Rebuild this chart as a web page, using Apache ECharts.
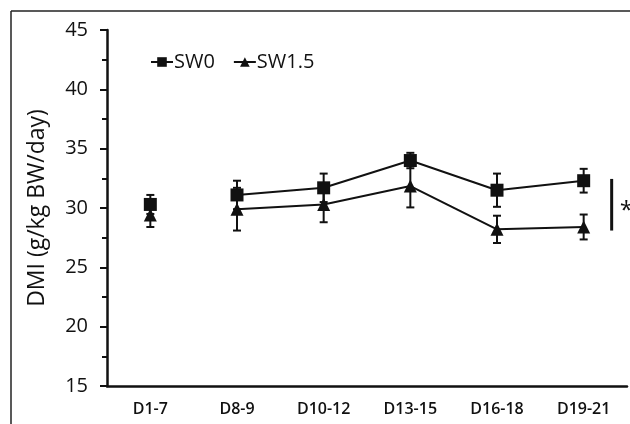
<!DOCTYPE html>
<html><head><meta charset="utf-8">
<script src="https://cdn.jsdelivr.net/npm/echarts@6/dist/echarts.min.js"></script>
<style>html,body{margin:0;padding:0;background:#fff}#c{width:630px;height:424px}</style>
</head><body><div id="c"></div>
<script>
const categories = ['D1-7','D8-9','D10-12','D13-15','D16-18','D19-21'];
const sw0 = [30.3, 31.1, 31.7, 34.0, 31.5, 32.3];
const sw0Err = [0.8, 1.2, 1.2, 0.65, 1.4, 1.0];
const sw15 = [29.4, 29.9, 30.3, 31.85, 28.2, 28.4];
const sw15Err = [1.0, 1.8, 1.5, 1.8, 1.15, 1.05];
const sigBracket = [32.45, 28.1];
const yTicks = [15, 20, 25, 30, 35, 40, 45];

const FONT = 'Open Sans';
const chart = echarts.init(document.getElementById('c'));

function errData(vals, errs){ return vals.map((v,i)=>[i, v-errs[i], v+errs[i]]); }
function errRender(params, api){
  const x = api.value(0);
  const lo = api.coord([x, api.value(1)]);
  const hi = api.coord([x, api.value(2)]);
  const w = 4;
  const st = {stroke:'#111', lineWidth:2};
  return {type:'group', children:[
    {type:'line', shape:{x1:lo[0],y1:lo[1],x2:hi[0],y2:hi[1]}, style:st},
    {type:'line', shape:{x1:lo[0]-w,y1:lo[1],x2:lo[0]+w,y2:lo[1]}, style:st},
    {type:'line', shape:{x1:hi[0]-w,y1:hi[1],x2:hi[0]+w,y2:hi[1]}, style:st}
  ]};
}
const firstOnly = arr => arr.map((v,i)=> i===0 ? v : '-');
const restOnly = arr => arr.map((v,i)=> i===0 ? '-' : v);

const option = {
  animation:false,
  textStyle:{fontFamily:FONT},
  graphic:[
    {type:'line', shape:{x1:11,y1:11,x2:630,y2:11}, style:{stroke:'#222',lineWidth:1.5}},
    {type:'line', shape:{x1:11,y1:11,x2:11,y2:424}, style:{stroke:'#222',lineWidth:1.5}}
  ],
  grid:{left:107, right:3, top:30, bottom:38},
  legend:{
    left:145, top:47, itemGap:18, itemWidth:22, itemHeight:12,
    data:['SW0','SW1.5'],
    textStyle:{fontFamily:FONT, fontSize:20, color:'#111', padding:[0,0,0,-4]}
  },
  xAxis:{
    type:'category', data:categories, boundaryGap:true,
    axisLine:{lineStyle:{color:'#111', width:2.5}},
    axisTick:{show:false},
    axisLabel:{fontFamily:FONT, fontSize:16, color:'#111', margin:15, fontWeight:600}
  },
  yAxis:{
    type:'value', min:yTicks[0], max:yTicks[yTicks.length-1], interval:5,
    name:'DMI (g/kg BW/day)', nameLocation:'middle', nameGap:58,
    nameTextStyle:{fontFamily:FONT, fontSize:23, color:'#111'},
    axisLine:{show:true, lineStyle:{color:'#111', width:2.5}},
    axisTick:{show:true, inside:false, length:7, lineStyle:{color:'#111', width:2}},
    minorTick:{show:true, splitNumber:2, length:5, lineStyle:{color:'#111', width:2}},
    splitLine:{show:false},
    axisLabel:{fontFamily:FONT, fontSize:20, color:'#111', margin:19, fontWeight:500}
  },
  series:[
    {type:'custom', name:'errSW0', renderItem:errRender, data:errData(sw0, sw0Err), z:1, silent:true},
    {type:'custom', name:'errSW15', renderItem:errRender, data:errData(sw15, sw15Err), z:1, silent:true},
    {type:'line', name:'SW0', data:restOnly(sw0), symbol:'rect', symbolSize:13,
      lineStyle:{color:'#111', width:2}, itemStyle:{color:'#111'}, z:3},
    {type:'line', name:'SW1.5', data:restOnly(sw15), symbol:'triangle', symbolSize:13,
      lineStyle:{color:'#111', width:2}, itemStyle:{color:'#111'}, z:3},
    {type:'scatter', name:'SW0', data:firstOnly(sw0), symbol:'rect', symbolSize:13, itemStyle:{color:'#111', opacity:1}, z:3},
    {type:'scatter', name:'SW1.5', data:firstOnly(sw15), symbol:'triangle', symbolSize:13, itemStyle:{color:'#111', opacity:1}, z:3},
    {type:'custom', name:'sig', silent:true, data:[[categories.length-1, sigBracket[0], sigBracket[1]]],
      renderItem:function(params, api){
        const x = api.value(0);
        const a = api.coord([x, api.value(1)]);
        const b = api.coord([x, api.value(2)]);
        const ox = a[0] + 28;
        return {type:'group', children:[
          {type:'line', shape:{x1:ox,y1:a[1],x2:ox,y2:b[1]}, style:{stroke:'#111', lineWidth:3}},
          {type:'text', style:{text:'*', x:ox+8, y:(a[1]+b[1])/2 + 6, fontSize:24, fontFamily:FONT, fill:'#111', textAlign:'left', textVerticalAlign:'middle'}}
        ]};
      }, z:2}
  ]
};
chart.setOption(option);
</script></body></html>
